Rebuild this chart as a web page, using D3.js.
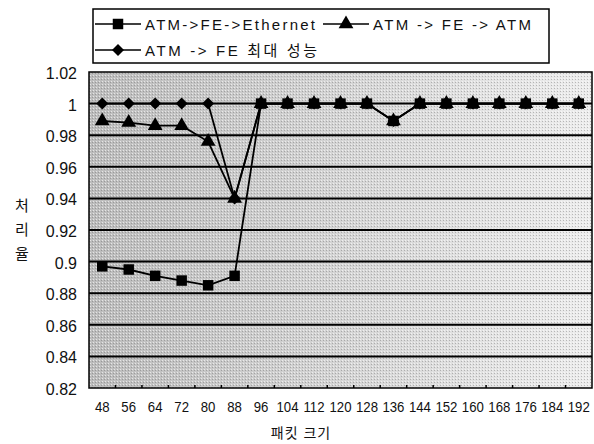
<!DOCTYPE html>
<html>
<head>
<meta charset="utf-8">
<script src="https://cdn.jsdelivr.net/npm/d3@7"></script>
<style>
  body { margin: 0; background: #fff; }
  text { font-family: "Liberation Sans", Arial, "Noto Sans CJK KR", sans-serif; fill: #111; }
</style>
</head>
<body>
<svg id="chart"></svg>
<script>
var width = 594,
    height = 444,
    plotLeft = 89,
    plotRight = 592,
    plotTop = 72,
    plotBottom = 388;

var packetSizes = ['48', '56', '64', '72', '80', '88', '96', '104', '112', '120', '128',
                   '136', '144', '152', '160', '168', '176', '184', '192'];
var ethernetValues = [0.897, 0.895, 0.891, 0.888, 0.885, 0.891, 1, 1, 1, 1, 1,
                      0.989, 1, 1, 1, 1, 1, 1, 1];
var atmValues = [0.989, 0.988, 0.986, 0.986, 0.976, 0.940, 1, 1, 1, 1, 1,
                 0.989, 1, 1, 1, 1, 1, 1, 1];
var maxValues = [1, 1, 1, 1, 1, 0.940, 1, 1, 1, 1, 1,
                 0.989, 1, 1, 1, 1, 1, 1, 1];
var yTicks = [0.82, 0.84, 0.86, 0.88, 0.9, 0.92, 0.94, 0.96, 0.98, 1, 1.02];
var seriesNames = ['ATM->FE->Ethernet', 'ATM -> FE -> ATM', 'ATM -> FE 최대 성능'];

var svg = d3.select('svg#chart')
    .attr('width', width)
    .attr('height', height);

var x = d3.scaleBand().domain(packetSizes).range([plotLeft, plotRight]).padding(0);
var y = d3.scaleLinear().domain([0.82, 1.02]).range([plotBottom, plotTop]);
var cx = function(d) { return x(d) + x.bandwidth() / 2; };

// halftone-ish background
var defs = svg.append('defs');
var grad = defs.append('linearGradient').attr('id', 'bgGrad')
    .attr('x1', '0').attr('x2', '1').attr('y1', '0').attr('y2', '0');
grad.append('stop').attr('offset', '0%').attr('stop-color', '#bcbcbc');
grad.append('stop').attr('offset', '45%').attr('stop-color', '#d2d2d2');
grad.append('stop').attr('offset', '100%').attr('stop-color', '#ededed');
var pat = defs.append('pattern').attr('id', 'dots')
    .attr('width', 3).attr('height', 3).attr('patternUnits', 'userSpaceOnUse');
pat.append('rect').attr('width', 1).attr('height', 1).attr('fill', '#fff').attr('opacity', 0.6);
pat.append('rect').attr('x', 2).attr('y', 1).attr('width', 1).attr('height', 1).attr('fill', '#555').attr('opacity', 0.35);

svg.append('rect')
    .attr('x', plotLeft).attr('y', plotTop)
    .attr('width', plotRight - plotLeft).attr('height', plotBottom - plotTop)
    .attr('fill', 'url(#bgGrad)');
svg.append('rect')
    .attr('x', plotLeft).attr('y', plotTop)
    .attr('width', plotRight - plotLeft).attr('height', plotBottom - plotTop)
    .attr('fill', 'url(#dots)');

// gridlines
svg.selectAll('line.grid')
    .data(yTicks.slice(1, -1))
    .enter().append('line')
    .attr('class', 'grid')
    .attr('x1', plotLeft).attr('x2', plotRight)
    .attr('y1', function(d) { return y(d); })
    .attr('y2', function(d) { return y(d); })
    .attr('stroke', '#000')
    .attr('stroke-width', 2);

// plot frame
svg.append('rect')
    .attr('x', plotLeft).attr('y', plotTop)
    .attr('width', plotRight - plotLeft).attr('height', plotBottom - plotTop)
    .attr('fill', 'none')
    .attr('stroke', '#000')
    .attr('stroke-width', 1.5);

// small ticks on the x axis at category boundaries
svg.selectAll('line.xtick')
    .data(packetSizes.slice(1))
    .enter().append('line')
    .attr('class', 'xtick')
    .attr('x1', function(d) { return x(d); })
    .attr('x2', function(d) { return x(d); })
    .attr('y1', plotBottom).attr('y2', plotBottom - 3)
    .attr('stroke', '#000').attr('stroke-width', 1.5);

// y tick labels
svg.selectAll('text.ylab')
    .data(yTicks)
    .enter().append('text')
    .attr('class', 'ylab')
    .attr('x', 77)
    .attr('y', function(d) { return y(d) + 7; })
    .attr('text-anchor', 'end')
    .attr('font-size', 16)
    .text(function(d) { return d3.format('')(d); });

// x tick labels
svg.selectAll('text.xlab')
    .data(packetSizes)
    .enter().append('text')
    .attr('class', 'xlab')
    .attr('x', function(d) { return cx(d); })
    .attr('y', 412)
    .attr('text-anchor', 'middle')
    .attr('font-size', 15)
    .attr('transform', function(d) { return 'translate(' + cx(d) + ',0) scale(0.88,1) translate(' + (-cx(d)) + ',0)'; })
    .text(function(d) { return d; });

// axis titles
svg.append('text')
    .attr('x', 301).attr('y', 438)
    .attr('text-anchor', 'middle')
    .attr('font-size', 14)
    .attr('letter-spacing', 1)
    .text('패킷 크기');

svg.selectAll('text.ytitle')
    .data(['처', '리', '율'])
    .enter().append('text')
    .attr('class', 'ytitle')
    .attr('x', 22)
    .attr('y', function(d, i) { return 211 + i * 24; })
    .attr('text-anchor', 'middle')
    .attr('font-size', 15)
    .text(function(d) { return d; });

// series
var line = d3.line()
    .x(function(d, i) { return cx(packetSizes[i]); })
    .y(function(d) { return y(d); });

var symSquare = d3.symbol().type(d3.symbolSquare).size(110)();
var symTri = d3.symbol().type(d3.symbolTriangle).size(95)();
var symDiamond = d3.symbol().type(d3.symbolSquare).size(72)();

function drawSeries(values, path, rotate) {
    svg.append('path')
        .datum(values)
        .attr('d', line)
        .attr('fill', 'none')
        .attr('stroke', '#000')
        .attr('stroke-width', 1.8);
    svg.append('g').selectAll('path')
        .data(values)
        .enter().append('path')
        .attr('d', path)
        .attr('transform', function(d, i) {
            return 'translate(' + cx(packetSizes[i]) + ',' + y(d) + ')' + (rotate ? ' rotate(45)' : '');
        })
        .attr('fill', '#000');
}

drawSeries(maxValues, symDiamond, true);
drawSeries(atmValues, symTri, false);
drawSeries(ethernetValues, symSquare, false);

// legend
svg.append('rect')
    .attr('x', 93).attr('y', 9)
    .attr('width', 456).attr('height', 54)
    .attr('fill', '#fff')
    .attr('stroke', '#000')
    .attr('stroke-width', 1.5);

var legendItems = [
    {name: seriesNames[0], sym: symSquare, rot: false, x: 95, y: 24, len: 170},
    {name: seriesNames[1], sym: symTri, rot: false, x: 323, y: 24, len: 158},
    {name: seriesNames[2], sym: symDiamond, rot: true, x: 95, y: 50, len: 172}
];

var leg = svg.selectAll('g.legend')
    .data(legendItems)
    .enter().append('g')
    .attr('class', 'legend')
    .attr('transform', function(d) { return 'translate(' + d.x + ',' + d.y + ')'; });
leg.append('line')
    .attr('x1', 0).attr('x2', 46)
    .attr('y1', 0).attr('y2', 0)
    .attr('stroke', '#000').attr('stroke-width', 1.5);
leg.append('path')
    .attr('d', function(d) { return d.sym; })
    .attr('transform', function(d) { return 'translate(23,0)' + (d.rot ? ' rotate(45)' : ''); })
    .attr('fill', '#000');
leg.append('text')
    .attr('x', 50).attr('y', 5.5)
    .attr('font-size', 15)
    .attr('textLength', function(d) { return d.len; })
    .attr('lengthAdjust', 'spacing')
    .text(function(d) { return d.name; });
</script>
</body>
</html>
